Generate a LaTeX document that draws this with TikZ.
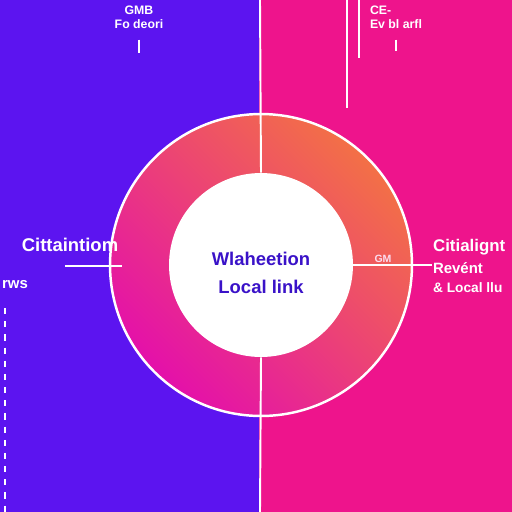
\documentclass[tikz,border=0pt]{standalone}
\usepackage{fontspec}
\setmainfont{Liberation Sans}
\definecolor{leftbg}{RGB}{92,20,240}
\definecolor{rightbg}{RGB}{238,20,140}
\definecolor{ringorange}{RGB}{243,112,70}
\definecolor{ringred}{RGB}{240,32,110}
\definecolor{ringmagenta}{RGB}{228,16,170}
\definecolor{hubtext}{RGB}{58,18,200}
\tikzset{
  wire/.style={white, line width=1.1pt},
  biglabel/.style={white, font=\bfseries\fontsize{10.5}{12}\selectfont},
  midlabel/.style={white, font=\bfseries\fontsize{8.5}{10}\selectfont},
  smalllabel/.style={white, font=\bfseries\fontsize{7}{8}\selectfont, align=left},
}
\begin{document}
\begin{tikzpicture}[x=0.02cm, y=-0.02cm]
        \useasboundingbox (0,0) rectangle (512,512);
        \clip (0,0) rectangle (512,512);
        % two halves
        \fill[leftbg] (0,0) rectangle (259,512);
        \fill[rightbg] (259,0) rectangle (512,512);

        % ring and hub
        \node[circle, minimum size=6.04cm, inner sep=0pt,
              top color=ringorange, middle color=ringred, bottom color=ringmagenta,
              shading angle=-45, draw=white, line width=1.4pt] (ring) at (261,265) {};
        \node[circle, fill=white, minimum size=3.68cm, inner sep=0pt] (hub) at (261,265) {};
        \node[hubtext, align=center, font=\bfseries\fontsize{10.5}{12}\selectfont] (hubname) at (261,273) {Wlaheetion\\[4pt]Local link};

        \coordinate (axtop) at (260,0);
        \coordinate (axbot) at (260,512);
        \draw[wire] (axtop) -- (hub.north);
        \draw[wire] (hub.south) -- (axbot);

        \coordinate (rtick) at (432,265);
        \draw[wire] (hub.east) -- (rtick);
        \node[white!85!rightbg, font=\bfseries\fontsize{6}{7}\selectfont] (gm) at (383,259) {GM};

        \coordinate (lstart) at (65,266);
        \coordinate (lend) at (122,266);
        \draw[wire] (lstart) -- (lend);

        % left labels
        \node[biglabel] (lefttitle) at (70,245) {Cittaintiom};
        \node[midlabel, anchor=west, inner sep=1pt] (leftsub) at (0,285) {rws};
        \coordinate (dtop) at (5,308);
        \coordinate (dbot) at (5,512);
        \draw[wire, dash pattern=on 3.5pt off 4pt] (dtop) -- (dbot);

        % right labels
        \node[white, font=\bfseries\fontsize{9.6}{11}\selectfont, anchor=west, inner sep=1pt] (righttitle) at (431,247) {Citialignt};
        \node[midlabel, anchor=west, inner sep=1pt] (rightsub) at (431,268) {Revént};
        \node[white, font=\bfseries\fontsize{7.8}{9}\selectfont, anchor=west, inner sep=1pt] (rightsub2) at (431,288) {\& Local llu};

        % top labels
        \node[smalllabel, align=center] (topleft) at (139,17) {GMB\\Fo deori};
        \draw[wire] (topleft.south) ++(0,5) -- ++(0,13);
        \node[smalllabel] (topright) at (396,17) {CE-\\Ev bl arfl};
        \draw[wire] (topright.south) ++(0,5) -- ++(0,11);
        \coordinate (p1) at (347,0);
        \coordinate (p2) at (359,0);
        \draw[wire] (p1) -- ++(0,108);
        \draw[wire] (p2) -- ++(0,58);
\end{tikzpicture}
\end{document}
